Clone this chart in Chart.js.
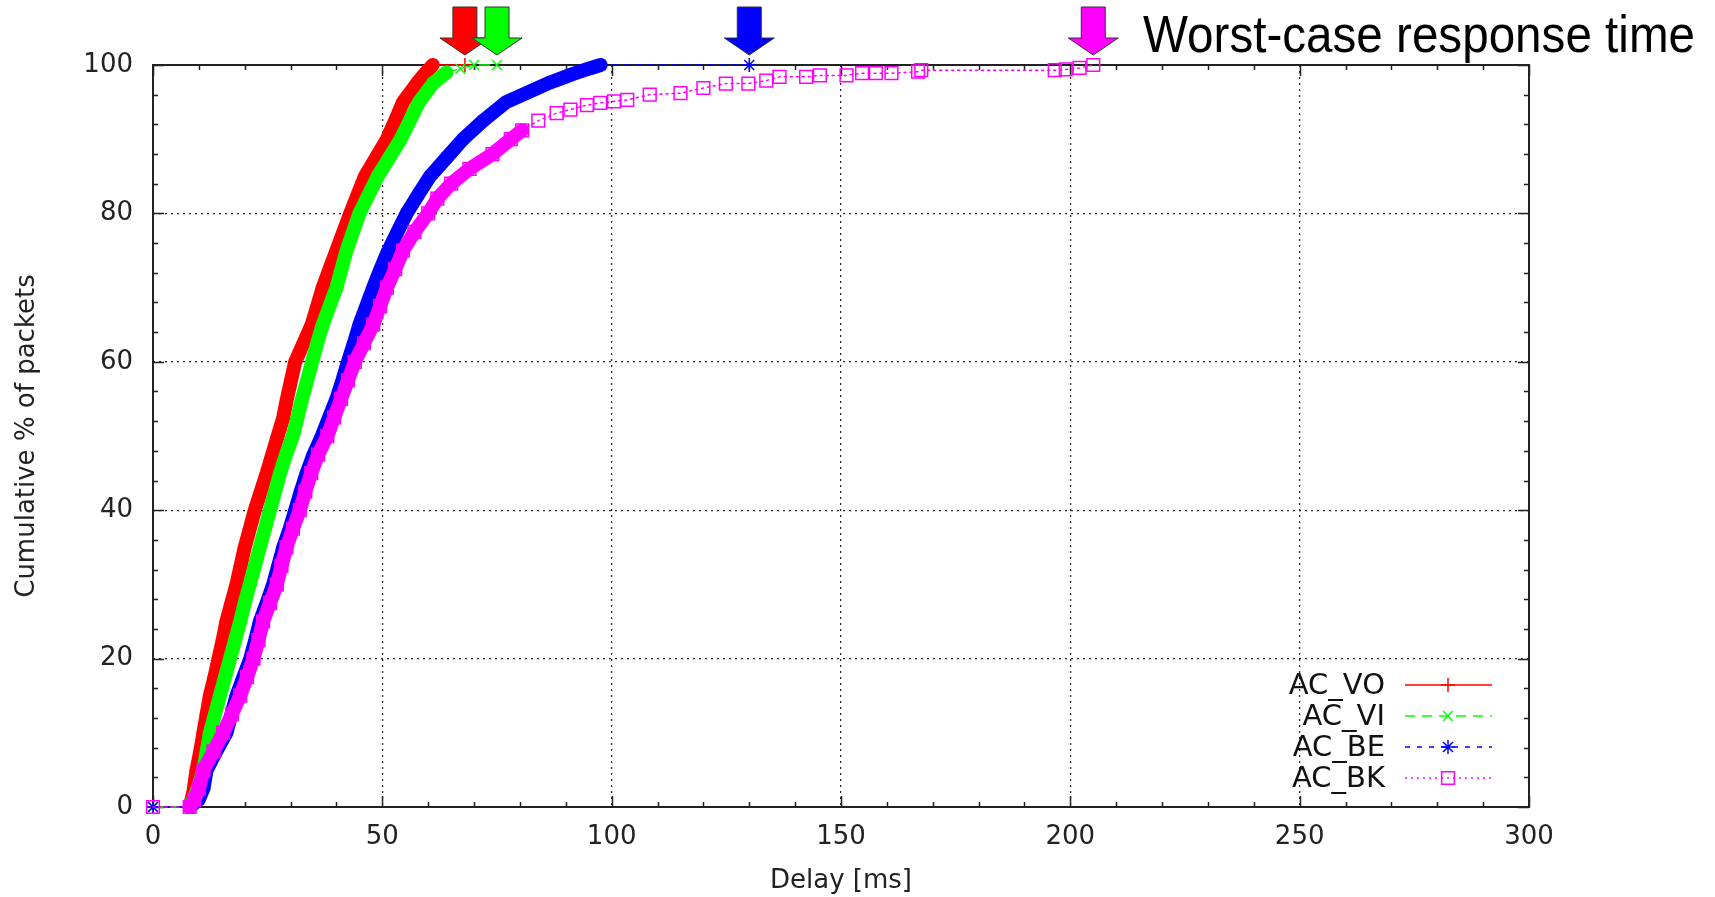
<!DOCTYPE html>
<html>
<head>
<meta charset="utf-8">
<title>Cumulative delay per access category</title>
<script src="https://cdn.jsdelivr.net/npm/chart.js@4.4.1/dist/chart.umd.min.js"></script>
<style>
  html, body { margin: 0; padding: 0; background: #fff; }
  #wrap { width: 1715px; height: 897px; }
</style>
</head>
<body>
<div id="wrap"><canvas id="cdf" width="1715" height="897"></canvas></div>
<script>
var FONT = '"DejaVu Sans", Verdana, sans-serif';
var NOTE_FONT = '"Liberation Sans", Arial, Helvetica, sans-serif';

// axis ticks
var xTicks = [0, 50, 100, 150, 200, 250, 300];
var yTicks = [0, 20, 40, 60, 80, 100];
var xMinorStep = 10;
var yMinorStep = 4;

var seriesNames = ['AC_VO', 'AC_VI', 'AC_BE', 'AC_BK'];

// delay [ms] vs cumulative % of packets
var voDelay = [0, 8, 8.8, 9.5, 10.3, 11, 11.7, 12.4, 13.4, 14.3, 15.2, 16, 17.1, 18.2, 19.1, 20, 21.1, 22.2, 23.5, 24.8, 26, 27.2,
  28.4, 29.2, 30.1, 31, 32.8, 34.6, 35.8, 37, 38.5, 40, 41.5, 43, 44.6, 46.2, 48.6, 51, 52.8, 54.5, 57.5, 59.5, 61, 68];
var voPct = [0, 0, 2, 5, 7.5, 10, 12.5, 15, 17.5, 20, 22.5, 25, 27.5, 30, 32.5, 35, 37.5, 40, 42.5, 45, 47.5, 50,
  52.5, 55, 57.5, 60, 62.5, 65, 67.5, 70, 72.5, 75, 77.5, 80, 82.5, 85, 87.5, 90, 92.5, 95, 97.5, 99, 100, 100];

var viDelay = [0, 8, 9.5, 11, 11.7, 12.4, 13.5, 14.6, 15.7, 16.8, 17.9, 19, 20, 21.1, 22.2, 23.3, 24.4, 25.5, 26.6, 27.7, 29, 30.5,
  31.5, 32.5, 33.6, 34.7, 35.8, 37, 38.5, 40, 41.1, 42.2, 43.6, 45, 47, 49, 51.5, 54, 56, 58, 61, 64, 67, 70, 75];
var viPct = [0, 0, 2, 5, 7.5, 10, 12.5, 15, 17.5, 20, 22.5, 25, 27.5, 30, 32.5, 35, 37.5, 40, 42.5, 45, 47.5, 50,
  52.5, 55, 57.5, 60, 62.5, 65, 67.5, 70, 72.5, 75, 77.5, 80, 82.5, 85, 87.5, 90, 92.5, 95, 97.5, 99, 99.5, 100, 100];

var beDelay = [0, 8, 10, 11, 11.7, 13.8, 16, 17.1, 18.2, 19.7, 21.2, 22.3, 23.3, 24.8, 26.2, 27.3, 28.4, 29.8, 31, 32.2, 33.5, 35,
  36.8, 38.4, 40, 41.3, 42.5, 43.8, 45, 46.5, 48, 49.6, 51.3, 53.3, 55.3, 57.8, 60.4, 64, 67.6, 72, 77, 86,
  89, 91.6, 94, 96, 97.6, 130];
var bePct = [0, 0, 1, 2.5, 5, 7.5, 10, 12.5, 15, 17.5, 20, 22.5, 25, 27.5, 30, 32.5, 35, 37.5, 40, 42.5, 45, 47.5,
  50, 52.5, 55, 57.5, 60, 62.5, 65, 67.5, 70, 72.5, 75, 77.5, 80, 82.5, 85, 87.5, 90, 92.5, 95, 97.5,
  98.2, 98.8, 99.3, 99.7, 100, 100];

var bkDelay = [0, 8, 9, 10, 11, 13.2, 15.3, 17.2, 19, 20.5, 21.9, 23, 24, 25.5, 27, 28, 29.1, 30.5, 32, 33.2, 34.5, 36,
  38, 39.5, 41, 42.5, 44, 46, 48, 49.5, 51, 52.8, 54.5, 57, 60, 62, 65, 69, 74, 78, 80.5, 84,
  88, 91, 94.6, 97.5, 100.5, 103.4, 108.3, 115, 120, 124.9, 129.8, 133.7, 136.6, 142.4, 145.4, 151.2, 154.6, 157.6, 161, 166.8,
  167.5, 196.6, 199, 202, 205];
var bkPct = [0, 0, 1, 2.5, 5, 7.5, 10, 12.5, 15, 17.5, 20, 22.5, 25, 27.5, 30, 32.5, 35, 37.5, 40, 42.5, 45, 47.5,
  50, 52.5, 55, 57.5, 60, 62.5, 65, 67.5, 70, 72.5, 75, 77.5, 80, 82, 84, 86, 88, 90, 91.2, 92.5,
  93.5, 94, 94.6, 94.9, 95.1, 95.3, 96, 96.2, 96.9, 97.5, 97.5, 97.9, 98.4, 98.4, 98.6, 98.6, 98.9, 98.9, 98.9, 99.1,
  99.3, 99.3, 99.4, 99.6, 100];

var delays = [voDelay, viDelay, beDelay, bkDelay];
var pcts = [voPct, viPct, bePct, bkPct];

// gnuplot-like look for each series; bandEnd = delay where the dense marker band thins out
var styles = [
  { color: '#ff0000', shape: 'cross', radius: 7, dash: [], bandEnd: 61 },
  { color: '#00ff00', shape: 'crossRot', radius: 7, dash: [10, 7], bandEnd: 64 },
  { color: '#0000ff', shape: 'star', radius: 7, dash: [5, 7], bandEnd: 97.6 },
  { color: '#ff00ff', shape: 'rect', radius: 9, dash: [2, 4], bandEnd: 80.5 }
];

function toPoints(xs, ys) {
  return xs.map(function(x, i) { return { x: x, y: ys[i] }; });
}

function denseTest(st) {
  return function(ctx) {
    var x0 = ctx.p0.parsed.x, x1 = ctx.p1.parsed.x;
    return x0 >= 8 && x1 <= st.bandEnd && (x1 - x0) < 12;
  };
}

var datasets = seriesNames.map(function(name, i) {
  var st = styles[i];
  var dense = denseTest(st);
  return {
    label: name,
    data: toPoints(delays[i], pcts[i]),
    showLine: true,
    order: 4 - i,
    clip: false,
    borderColor: st.color,
    borderWidth: 1.5,
    borderDash: st.dash,
    borderJoinStyle: 'round',
    borderCapStyle: 'round',
    pointStyle: st.shape,
    pointRadius: st.radius,
    pointBorderWidth: 1.5,
    pointBorderColor: st.color,
    pointBackgroundColor: 'rgba(0,0,0,0)',
    segment: {
      borderWidth: function(ctx) { return dense(ctx) ? 14 : 1.5; },
      borderDash: function(ctx) { return dense(ctx) ? [] : st.dash; }
    }
  };
});

function edgeless(max) {
  return function(c) {
    if (!c.tick) return '#222';
    return (c.tick.value === 0 || c.tick.value === max) ? 'rgba(0,0,0,0)' : '#222';
  };
}

var framePlugin = {
  id: 'frame',
  beforeDatasetsDraw: function(chart) {
    var ctx = chart.ctx, a = chart.chartArea;
    var xs = chart.scales.x, ys = chart.scales.y;
    ctx.save();
    ctx.strokeStyle = '#222';
    ctx.lineWidth = 1.5;
    ctx.beginPath();
    for (var v = 0; v <= 100; v += yMinorStep) {
      var py = Math.round(ys.getPixelForValue(v)) + 0.5;
      var len = yTicks.indexOf(v) >= 0 ? 11 : 5;
      ctx.moveTo(a.left, py); ctx.lineTo(a.left + len, py);
      ctx.moveTo(a.right, py); ctx.lineTo(a.right - len, py);
    }
    for (var u = 0; u <= 300; u += xMinorStep) {
      var px = Math.round(xs.getPixelForValue(u)) + 0.5;
      var l2 = xTicks.indexOf(u) >= 0 ? 11 : 5;
      ctx.moveTo(px, a.bottom); ctx.lineTo(px, a.bottom - l2);
      ctx.moveTo(px, a.top); ctx.lineTo(px, a.top + l2);
    }
    ctx.stroke();
    ctx.lineWidth = 2;
    ctx.strokeRect(a.left, a.top, a.right - a.left, a.bottom - a.top);
    ctx.restore();
  },
  afterDraw: function(chart) {
    var ctx = chart.ctx;
    var xs = chart.scales.x;
    ctx.save();

    // worst-case arrows above the frame
    delays.forEach(function(arr, i) {
      var cx = xs.getPixelForValue(Math.max.apply(null, arr));
      ctx.beginPath();
      ctx.moveTo(cx - 12, 7);
      ctx.lineTo(cx + 12, 7);
      ctx.lineTo(cx + 12, 38);
      ctx.lineTo(cx + 25, 38);
      ctx.lineTo(cx, 55);
      ctx.lineTo(cx - 25, 38);
      ctx.lineTo(cx - 12, 38);
      ctx.closePath();
      ctx.fillStyle = styles[i].color;
      ctx.fill();
      ctx.strokeStyle = '#333';
      ctx.lineWidth = 1;
      ctx.stroke();
    });

    ctx.fillStyle = '#000';
    ctx.font = '52px ' + NOTE_FONT;
    ctx.textAlign = 'left';
    ctx.textBaseline = 'alphabetic';
    ctx.fillText('Worst-case response time', 1143, 52, 552);

    // key, gnuplot style: label on the left, sample on the right
    var rows = [685, 716, 747, 778];
    ctx.font = '29px ' + FONT;
    ctx.textAlign = 'right';
    ctx.textBaseline = 'middle';
    seriesNames.forEach(function(name, i) {
      var st = styles[i], y = rows[i];
      ctx.fillStyle = '#111';
      ctx.fillText(name, 1385, y + 1);
      ctx.save();
      ctx.strokeStyle = st.color;
      ctx.lineWidth = 1.5;
      ctx.setLineDash(st.dash);
      ctx.beginPath();
      ctx.moveTo(1405, y); ctx.lineTo(1492, y);
      ctx.stroke();
      ctx.restore();
      ctx.strokeStyle = st.color;
      ctx.fillStyle = 'rgba(0,0,0,0)';
      ctx.lineWidth = 1.5;
      Chart.helpers.drawPoint(ctx, { pointStyle: st.shape, radius: st.radius, rotation: 0, borderWidth: 1.5 }, 1448, y);
    });
    ctx.restore();
  }
};

new Chart(document.getElementById('cdf'), {
  type: 'scatter',
  data: { datasets: datasets },
  plugins: [framePlugin],
  options: {
    responsive: false,
    devicePixelRatio: 1,
    animation: false,
    layout: { padding: { left: 0, right: 186, top: 65, bottom: 0 } },
    plugins: { legend: { display: false }, tooltip: { enabled: false } },
    scales: {
      x: {
        type: 'linear',
        min: 0,
        max: 300,
        afterBuildTicks: function(s) { s.ticks = xTicks.map(function(v) { return { value: v }; }); },
        afterFit: function(s) { s.height = 90; },
        ticks: { font: { family: FONT, size: 26 }, color: '#222', padding: 15, maxRotation: 0, autoSkip: false },
        grid: { color: edgeless(300), lineWidth: 1.2, drawTicks: false },
        border: { display: false, dash: [2, 4] },
        title: { display: true, text: 'Delay [ms]', font: { family: FONT, size: 26 }, color: '#222', padding: { top: 0, bottom: 0 } }
      },
      y: {
        type: 'linear',
        min: 0,
        max: 100,
        afterBuildTicks: function(s) { s.ticks = yTicks.map(function(v) { return { value: v }; }); },
        afterFit: function(s) { s.width = 153; },
        ticks: { font: { family: FONT, size: 26 }, color: '#222', padding: 20, autoSkip: false },
        grid: { color: edgeless(100), lineWidth: 1.2, drawTicks: false },
        border: { display: false, dash: [2, 4] },
        title: { display: true, text: 'Cumulative % of packets', font: { family: FONT, size: 26 }, color: '#222', padding: { top: 12, bottom: 0 } }
      }
    }
  }
});
</script>
</body>
</html>
